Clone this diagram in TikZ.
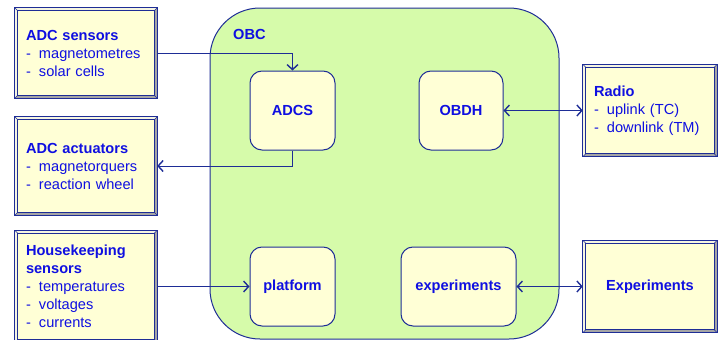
\documentclass[tikz,border=0pt]{standalone}
\usepackage{fontspec}
\setmainfont{Liberation Sans}
\usetikzlibrary{arrows.meta,backgrounds}
\definecolor{txtblue}{RGB}{15,15,225}
\definecolor{lineblue}{RGB}{30,45,150}
\definecolor{boxfill}{RGB}{255,255,214}
\definecolor{obcfill}{RGB}{214,251,170}
\definecolor{bevgray}{RGB}{165,165,165}
\definecolor{bevlight}{RGB}{245,245,225}
\newcommand\bevelframe[1]{%
 \begin{pgfonlayer}{background}
 \fill[bevlight] (#1.south west) rectangle (#1.north east);
 \fill[bevgray] (#1.south west) -- ([shift={(3,-3)}]#1.south west) -- ([shift={(-3,-3)}]#1.south east) -- ([shift={(-3,3)}]#1.north east) -- (#1.north east) -- (#1.south east) -- cycle;
 \draw[lineblue,line width=1pt] (#1.south west) rectangle (#1.north east);
 \draw[lineblue,line width=1pt,fill=boxfill] ([shift={(3,-3)}]#1.south west) rectangle ([shift={(-3,3)}]#1.north east);
 \draw[lineblue,line width=0.6pt] (#1.south west) -- ++(3,-3) (#1.south east) -- ++(-3,-3) (#1.north east) -- ++(-3,3) (#1.north west) -- ++(3,3);
 \end{pgfonlayer}}
\newcommand\itm[1]{\makebox[13pt][l]{-}#1}
\tikzset{
 x=1pt,y=-1pt,
 every node/.style={font=\fontsize{14.6}{18}\selectfont,text=txtblue},
 bevbox/.style={rectangle,inner xsep=11pt,inner ysep=0pt,align=left},
 inbox/.style={rectangle,rounded corners=12pt,draw=lineblue,line width=1pt,fill=boxfill,font=\fontsize{14.6}{18}\selectfont\bfseries,inner sep=0pt},
 conn/.style={draw=lineblue,line width=1pt},
 tip/.style={-{Straight Barb[length=5pt,width=11pt,line width=1.4pt]}},
 tips/.style={{Straight Barb[length=5pt,width=11pt,line width=1.4pt]}-{Straight Barb[length=5pt,width=11pt,line width=1.4pt]}},
}
\begin{document}
\begin{tikzpicture}
\useasboundingbox (0,0) rectangle (721,340);
\node[draw=lineblue,line width=1pt,fill=obcfill,rounded corners=50pt,minimum width=349pt,minimum height=331pt,inner sep=0pt] (obc) at (384.5,173.5) {};
\node[font=\fontsize{14.6}{18}\selectfont\bfseries,anchor=west,inner sep=0pt] (obclbl) at (233,34) {OBC};

\node[bevbox,minimum width=142pt,minimum height=90pt,text width=120pt] (sens) at (86,53)
 {\textbf{ADC sensors}\\\itm{magnetometres}\\\itm{solar cells}};
\bevelframe{sens}
\node[bevbox,minimum width=142pt,minimum height=98pt,text width=120pt] (act) at (86,166)
 {\textbf{ADC actuators}\\\itm{magnetorquers}\\\itm{reaction wheel}};
\bevelframe{act}
\node[bevbox,minimum width=142pt,minimum height=112pt,text width=120pt] (hk) at (86,286.5)
 {\textbf{Housekeeping}\\\textbf{sensors}\\\itm{temperatures}\\\itm{voltages}\\\itm{currents}};
\bevelframe{hk}
\node[bevbox,minimum width=134pt,minimum height=92pt,text width=112pt] (radio) at (650,110.5)
 {\textbf{Radio}\\\itm{uplink (TC)}\\\itm{downlink (TM)}};
\bevelframe{radio}
\node[bevbox,minimum width=134pt,minimum height=92pt,text width=112pt,align=center,font=\fontsize{14.6}{18}\selectfont\bfseries] (exp) at (650,286.5)
 {Experiments};
\bevelframe{exp}

\node[inbox,minimum width=85pt,minimum height=79pt] (adcs) at (292.5,110.5) {ADCS};
\node[inbox,minimum width=84pt,minimum height=79pt] (obdh) at (461,110.5) {OBDH};
\node[inbox,minimum width=85pt,minimum height=79pt] (plat) at (292.5,286.5) {platform};
\node[inbox,minimum width=115pt,minimum height=79pt] (expi) at (458.5,286.5) {experiments};

\draw[conn,tip] (sens.east) -| (adcs.north);
\draw[conn,tip] (adcs.south) |- (act.east);
\draw[conn,tip] (hk.east) -- (plat.west);
\draw[conn,tips] (obdh.east) -- (radio.west);
\draw[conn,tips] (expi.east) -- (exp.west);
\end{tikzpicture}
\end{document}
